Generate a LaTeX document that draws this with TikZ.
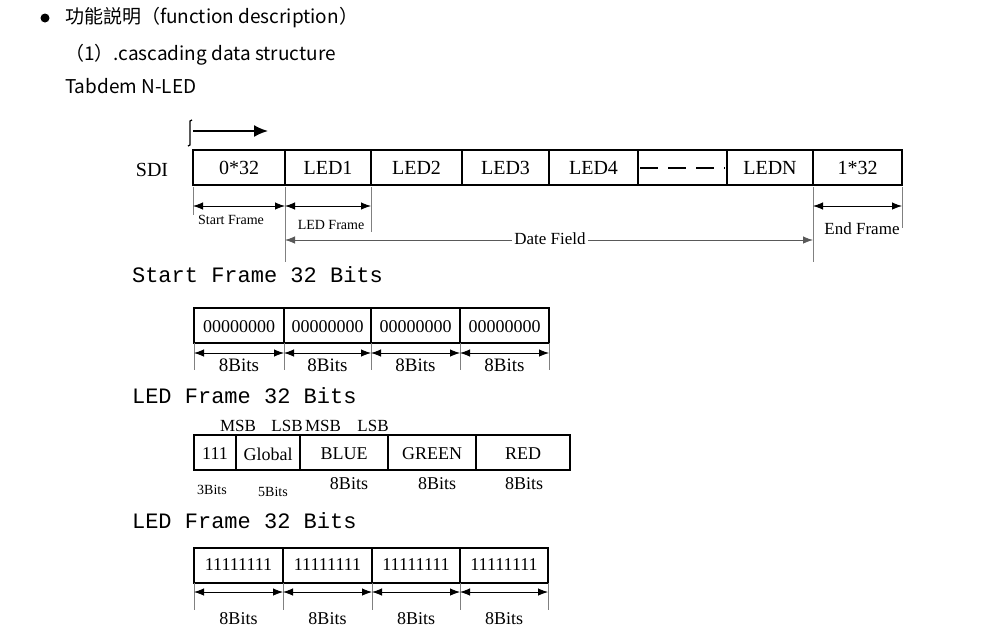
\documentclass[tikz,border=0pt]{standalone}
\usepackage{fontspec}
\setmainfont{Liberation Serif}
\newfontfamily\hdr{Noto Sans CJK SC}
\newfontfamily\mono{Liberation Mono}
\usetikzlibrary{arrows.meta}
\begin{document}
\begin{tikzpicture}[x=0.5pt,y=-0.5pt,
  cell/.style={draw,line width=0.6pt,inner sep=0pt},
  lab/.style={font=\fontsize{9}{10}\selectfont},
  small/.style={font=\fontsize{7}{8}\selectfont},
  head/.style={font=\mono\fontsize{11}{12}\selectfont,anchor=west},
  hd/.style={font=\hdr\fontsize{9.5}{11}\selectfont,anchor=west},
  dim/.style={line width=0.4pt,{Latex[length=5pt]}-{Latex[length=5pt]}},
  tick/.style={line width=0.4pt,gray}]
\useasboundingbox (0,0) rectangle (1000,638);
% header
\fill (45,18) circle (4.5);
\node[hd] (h1) at (58,18) {功能説明（function description）};
\node[hd] (h2) at (58,55) {（1）.cascading data structure};
\node[hd] (h3) at (58,86) {Tabdem N-LED};
% top arrow
\draw[line width=0.6pt] (192,120) -- (190,121) -- (190,145) -- (188,146);
\coordinate (a0) at (193,131); \coordinate (a1) at (268,131);
\draw[line width=0.9pt,-{Latex[length=7pt,width=6pt]}] (a0) -- (a1);
% SDI row
\node[lab,font=\fontsize{10}{11}\selectfont] (sdi) at (152,170) {SDI};
\foreach \a/\b/\t/\n in {193/285/0*32/c1,285/371/LED1/c2,371/462/LED2/c3,462/549/LED3/c4,549/638/LED4/c5,638/727/{}/c6,727/813/LEDN/c7,813/902/1*32/c8}{
  \draw[line width=0.8pt] (\a,150) rectangle (\b,185);
  \node[lab,font=\fontsize{10}{11}\selectfont] (\n) at ({(\a+\b)/2},168) {\t};
}
\draw[line width=1pt,dash pattern=on 9pt off 5pt] (640,168) -- (725,168);
% dimensions top
\foreach \x/\y in {193/215,285/262,371/232,813/262,902/228}{\draw[tick] (\x,187) -- (\x,\y);}
\coordinate (s0) at (193,206); \coordinate (s1) at (285,206); \coordinate (s2) at (371,206);
\coordinate (e0) at (813,206); \coordinate (e1) at (902,206);
\coordinate (d0) at (285,240); \coordinate (d1) at (813,240);
\draw[dim] (s0) -- (s1); \draw[dim] (s1) -- (s2); \draw[dim] (e0) -- (e1);
\draw[dim,gray!70!black] (d0) -- (d1);
\node[small] (sf) at (231,220) {Start Frame};
\node[small] (lf) at (331,225) {LED Frame};
\node[small,font=\fontsize{8.5}{9}\selectfont] (ef) at (862,229) {End Frame};
\node[small,fill=white,inner sep=1pt,font=\fontsize{8.5}{9}\selectfont] (df) at (550,239) {Date Field};
% Start frame
\node[head] (t1) at (125,275) {Start Frame 32 Bits};
\foreach \a/\b/\n in {194/284/p1,284/371/p2,371/460/p3,460/549/p4}{
  \draw[line width=0.8pt] (\a,308) rectangle (\b,343);
  \node[lab] (\n) at ({(\a+\b)/2},327) {00000000};
  \draw[tick] (\a,343) -- (\a,370); \draw[tick] (\b,343) -- (\b,370);
  \draw[dim] (\a,353) -- (\b,353);
  \node[lab,font=\fontsize{9.5}{10}\selectfont] (\n b) at ({(\a+\b)/2},365) {8Bits};
}
% LED frame 1
\node[head] (t2) at (125,396) {LED Frame 32 Bits};
\foreach \x/\t/\n in {238/MSB/m1,287/LSB/m2,323/MSB/m3,373/LSB/m4}{\node[lab,font=\fontsize{8.5}{9}\selectfont] (\n) at (\x,426) {\t};}
\foreach \a/\b/\t/\n in {194/236/111/q1,236/300/Global/q2,300/388/BLUE/q3,388/476/GREEN/q4,476/570/RED/q5}{
  \draw[line width=0.8pt] (\a,435) rectangle (\b,470);
  \node[lab] (\n) at ({(\a+\b)/2},454) {\t};
}
\node[small] (b1) at (212,490) {3Bits};
\node[small] (b2) at (273,492) {5Bits};
\node[lab] (b3) at (349,484) {8Bits};
\node[lab] (b4) at (437,484) {8Bits};
\node[lab] (b5) at (524,484) {8Bits};
% LED frame 2
\node[head] (t3) at (125,521) {LED Frame 32 Bits};
\foreach \a/\b/\n in {194/283/r1,283/372/r2,372/460/r3,460/548/r4}{
  \draw[line width=0.8pt] (\a,548) rectangle (\b,583);
  \node[lab] (\n) at ({(\a+\b)/2},565) {11111111};
  \draw[tick] (\a,583) -- (\a,610); \draw[tick] (\b,583) -- (\b,610);
  \draw[dim] (\a,592) -- (\b,592);
  \node[lab] (\n b) at ({(\a+\b)/2},619) {8Bits};
}
\end{tikzpicture}
\end{document}
